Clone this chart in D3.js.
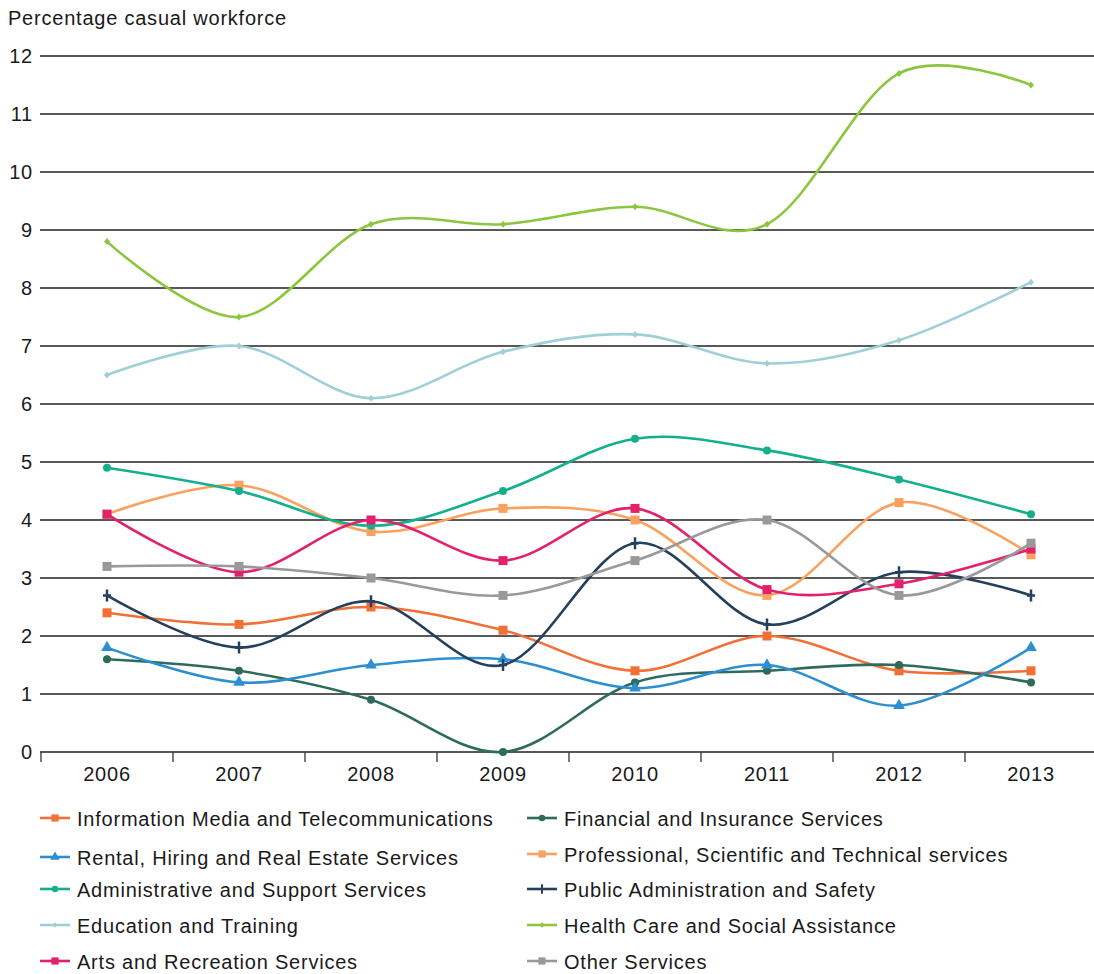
<!DOCTYPE html>
<html>
<head>
<meta charset="utf-8">
<script src="https://cdn.jsdelivr.net/npm/d3@7"></script>
<style>
  body { margin: 0; background: #fff; }
  text { font-family: "Liberation Sans", Arial, Helvetica, sans-serif; fill: #1a1a1a; letter-spacing: 0.78px; }
</style>
</head>
<body>
<div id="chart"></div>
<script>
// categories
var years = ["2006", "2007", "2008", "2009", "2010", "2011", "2012", "2013"];

// series values (percentage casual workforce)
var infoMedia    = [2.4, 2.2, 2.5, 2.1, 1.4, 2.0, 1.4, 1.4];
var financial    = [1.6, 1.4, 0.9, 0.0, 1.2, 1.4, 1.5, 1.2];
var rental       = [1.8, 1.2, 1.5, 1.6, 1.1, 1.5, 0.8, 1.8];
var professional = [4.1, 4.6, 3.8, 4.2, 4.0, 2.7, 4.3, 3.4];
var admin        = [4.9, 4.5, 3.9, 4.5, 5.4, 5.2, 4.7, 4.1];
var publicAdmin  = [2.7, 1.8, 2.6, 1.5, 3.6, 2.2, 3.1, 2.7];
var education    = [6.5, 7.0, 6.1, 6.9, 7.2, 6.7, 7.1, 8.1];
var health       = [8.8, 7.5, 9.1, 9.1, 9.4, 9.1, 11.7, 11.5];
var arts         = [4.1, 3.1, 4.0, 3.3, 4.2, 2.8, 2.9, 3.5];
var other        = [3.2, 3.2, 3.0, 2.7, 3.3, 4.0, 2.7, 3.6];

var yTicks = [0, 1, 2, 3, 4, 5, 6, 7, 8, 9, 10, 11, 12];

// order drawn: back to front
var series = [
  {name: "Information Media and Telecommunications", values: infoMedia, color: "#f26f36", marker: "square"},
  {name: "Financial and Insurance Services", values: financial, color: "#2e6b5c", marker: "circle"},
  {name: "Rental, Hiring and Real Estate Services", values: rental, color: "#2b8fd1", marker: "triangle"},
  {name: "Professional, Scientific and Technical services", values: professional, color: "#f9a15f", marker: "square"},
  {name: "Administrative and Support Services", values: admin, color: "#14b08e", marker: "circle"},
  {name: "Public Administration and Safety", values: publicAdmin, color: "#25405d", marker: "plus"},
  {name: "Education and Training", values: education, color: "#9fcfd7", marker: "diamond"},
  {name: "Health Care and Social Assistance", values: health, color: "#8cc63f", marker: "diamond"},
  {name: "Arts and Recreation Services", values: arts, color: "#e2206b", marker: "square"},
  {name: "Other Services", values: other, color: "#999999", marker: "square"}
];

var W = 1094, H = 974;
var margin = {top: 56, left: 41};
var plotW = 132 * years.length, plotH = 696;

var svg = d3.select("#chart").append("svg")
  .attr("width", W).attr("height", H);

var g = svg.append("g")
  .attr("transform", "translate(" + margin.left + "," + margin.top + ")");

var x = d3.scaleBand().domain(years).range([0, plotW]).padding(0);
var y = d3.scaleLinear().domain([0, 12]).range([plotH, 0]);

// y axis title
svg.append("text")
  .attr("x", 8).attr("y", 25)
  .attr("font-size", "20px")
  .text("Percentage casual workforce");

// gridlines
g.selectAll(".grid").data(yTicks.filter(function(d) { return d > 0; }))
  .enter().append("line")
  .attr("x1", -1).attr("x2", W)
  .attr("y1", function(d) { return y(d); })
  .attr("y2", function(d) { return y(d); })
  .attr("stroke", "#222").attr("stroke-width", 1.3);

// y tick labels
g.selectAll(".ylab").data(yTicks)
  .enter().append("text")
  .attr("x", -8)
  .attr("y", function(d) { return y(d); })
  .attr("dy", "0.35em")
  .attr("text-anchor", "end")
  .attr("font-size", "20px")
  .text(function(d) { return d; });

// x axis
var xAxis = g.append("g").attr("transform", "translate(0," + plotH + ")");
xAxis.append("line")
  .attr("x1", -1).attr("x2", W)
  .attr("stroke", "#222").attr("stroke-width", 1.5);
xAxis.selectAll(".xt").data(d3.range(years.length + 1))
  .enter().append("line")
  .attr("x1", function(i) { return i * x.bandwidth(); })
  .attr("x2", function(i) { return i * x.bandwidth(); })
  .attr("y1", 0).attr("y2", 10)
  .attr("stroke", "#333").attr("stroke-width", 1.3);
xAxis.selectAll(".xl").data(years)
  .enter().append("text")
  .attr("x", function(d) { return x(d) + x.bandwidth() / 2; })
  .attr("y", 29)
  .attr("text-anchor", "middle")
  .attr("font-size", "20px")
  .text(function(d) { return d; });

// marker drawing
function drawMarker(sel, type, color, size) {
  var s = size || 1;
  if (type === "square") {
    sel.append("rect").attr("x", -4.5 * s).attr("y", -4.5 * s)
      .attr("width", 9 * s).attr("height", 9 * s).attr("fill", color);
  } else if (type === "circle") {
    sel.append("circle").attr("r", 4 * s).attr("fill", color);
  } else if (type === "triangle") {
    sel.append("path").attr("d", d3.symbol().type(d3.symbolTriangle).size(60 * s * s)).attr("fill", color);
  } else if (type === "diamond") {
    sel.append("path").attr("d", "M0,-3.5L3,0L0,3.5L-3,0Z").attr("fill", color).attr("transform", "scale(" + s + ")");
  } else if (type === "plus") {
    sel.append("path").attr("d", "M0,-6V6M-4,0H4").attr("stroke", color).attr("stroke-width", 2.5).attr("fill", "none").attr("transform", "scale(" + s + ")");
  }
}

var line = d3.line()
  .x(function(d, i) { return x(years[i]) + x.bandwidth() / 2; })
  .y(function(d) { return y(d); })
  .curve(d3.curveCardinal.tension(0));

series.forEach(function(s) {
  var sg = g.append("g");
  sg.append("path")
    .datum(s.values)
    .attr("d", line)
    .attr("fill", "none")
    .attr("stroke", s.color)
    .attr("stroke-width", 2.6);
  sg.selectAll(".m").data(s.values).enter().append("g")
    .attr("transform", function(d, i) {
      return "translate(" + (x(years[i]) + x.bandwidth() / 2) + "," + y(d) + ")";
    })
    .each(function() { drawMarker(d3.select(this), s.marker, s.color); });
});

// legend
var rowsLeft = [818, 857, 889, 925, 961];
var rowsRight = [818, 854, 889, 925, 961];
series.forEach(function(s, k) {
  var col = k % 2, row = Math.floor(k / 2);
  var lx = col === 0 ? 40 : 527;
  var ly = col === 0 ? rowsLeft[row] : rowsRight[row];
  var lg = svg.append("g").attr("transform", "translate(" + lx + "," + ly + ")");
  lg.append("line").attr("x1", 0).attr("x2", 30)
    .attr("stroke", s.color).attr("stroke-width", 2.6);
  var mg = lg.append("g").attr("transform", "translate(15,0)");
  drawMarker(mg, s.marker, s.color, 0.8);
  lg.append("text").attr("x", 37).attr("y", 1).attr("dy", "0.35em")
    .attr("font-size", "20px")
    .text(s.name);
});
</script>
</body>
</html>
